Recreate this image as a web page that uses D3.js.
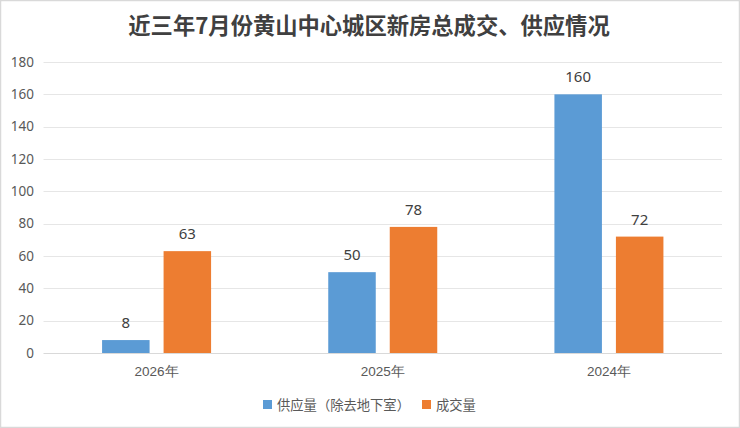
<!DOCTYPE html>
<html><head><meta charset="utf-8">
<script src="https://cdn.jsdelivr.net/npm/d3@7"></script>
<style>
html,body{margin:0;padding:0;background:#fff;}
svg{display:block;font-family:"Noto Sans CJK SC","Noto Sans",sans-serif;}
</style></head>
<body><svg id="c" width="740" height="428"></svg>
<script>
const title = "近三年7月份黄山中心城区新房总成交、供应情况";
const categories = ["2026年", "2025年", "2024年"];
const seriesNames = ["供应量（除去地下室）", "成交量"];
const supply = [8, 50, 160];
const deals = [63, 78, 72];
const yTicks = [0, 20, 40, 60, 80, 100, 120, 140, 160, 180];
const colors = ["#5b9bd5", "#ed7d31"];

const svg = d3.select("#c");
const W = 740, H = 428;
const m = {left: 43.5, right: 18, top: 62, bottom: 75};

svg.append("rect").attr("x",0.5).attr("y",0.5).attr("width",W-1).attr("height",H-1)
  .attr("fill","#fff").attr("stroke","#d9d9d9").attr("stroke-width",1.5);

svg.append("text").attr("x",369).attr("y",34).attr("text-anchor","middle")
  .attr("font-size",22.3).attr("font-weight","bold").attr("fill","#404040").text(title);

const x = d3.scaleBand().domain(categories).range([m.left, W - m.right]).paddingInner(0).paddingOuter(0);
const y = d3.scaleLinear().domain([0,180]).range([353, m.top]);

const g = svg.append("g");
g.selectAll("line.grid").data(yTicks).join("line")
  .attr("x1", m.left).attr("x2", W - m.right)
  .attr("y1", d => Math.round(y(d))+0.5).attr("y2", d => Math.round(y(d))+0.5)
  .attr("stroke", d => d===0 ? "#d9d9d9" : "#e6e6e6").attr("stroke-width", 1);

const yAxis = d3.axisLeft(y).tickValues(yTicks).tickSize(0).tickPadding(0);
const ya = svg.append("g").attr("transform", `translate(34,0)`).call(yAxis);
ya.select(".domain").remove();
ya.selectAll("text").attr("font-size",13.5).attr("fill","#595959").attr("font-family","'Noto Sans','Noto Sans CJK SC',sans-serif");

const xAxis = d3.axisBottom(x).tickSize(0).tickPadding(0);
const xa = svg.append("g").attr("transform", `translate(0,366)`).call(xAxis);
xa.select(".domain").remove();
xa.selectAll("text").attr("font-size",13.5).attr("fill","#595959");

const barW = 47.5, gap = 14;
const data = [supply, deals];
data.forEach((vals, si) => {
  const offs = si===0 ? -(gap/2 + barW) : gap/2;
  svg.append("g").selectAll("rect").data(vals).join("rect")
    .attr("x", (d,i) => x(categories[i]) + x.bandwidth()/2 + offs)
    .attr("width", barW)
    .attr("y", d => y(d))
    .attr("height", d => y(0) - y(d))
    .attr("fill", colors[si]);
  svg.append("g").selectAll("text").data(vals).join("text")
    .attr("x", (d,i) => x(categories[i]) + x.bandwidth()/2 + offs + barW/2)
    .attr("y", d => y(d) - 12)
    .attr("text-anchor","middle").attr("font-size",15).attr("fill","#404040")
    .attr("font-family","'Noto Sans','Noto Sans CJK SC',sans-serif")
    .text(d => d);
});

const leg = [{x:263, name:seriesNames[0], c:colors[0]}, {x:422, name:seriesNames[1], c:colors[1]}];
leg.forEach(l => {
  svg.append("rect").attr("x", l.x).attr("y", 400).attr("width", 9).attr("height", 9).attr("fill", l.c);
  svg.append("text").attr("x", l.x + 14).attr("y", 410).attr("font-size", 13.3).attr("fill","#595959").text(l.name);
});
</script></body></html>
